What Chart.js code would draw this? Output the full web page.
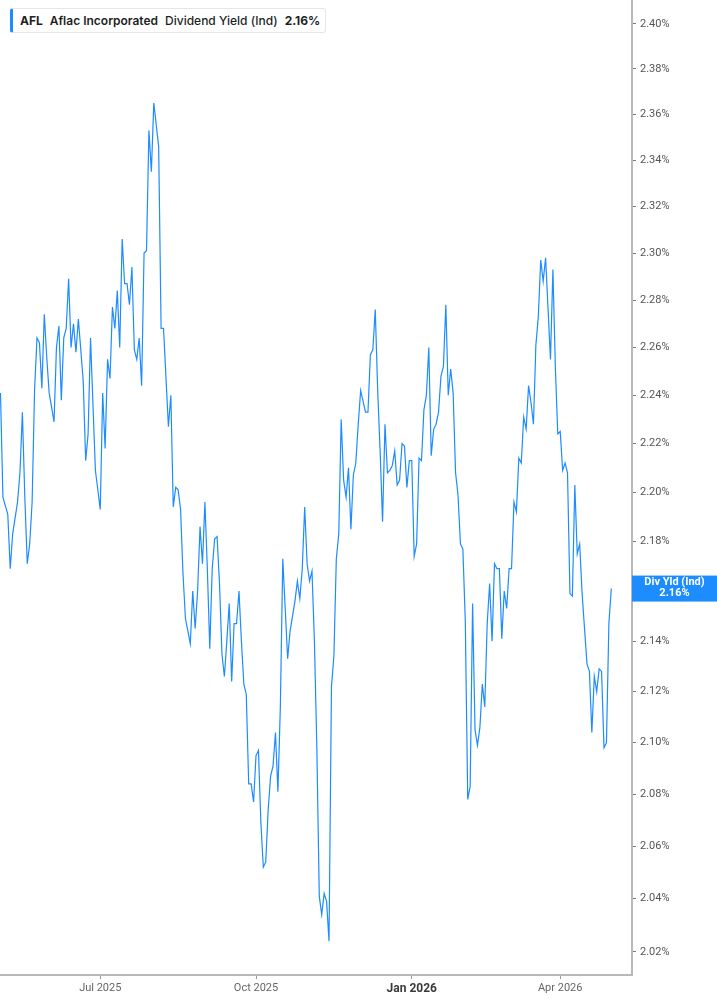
<!DOCTYPE html>
<html>
<head>
<meta charset="utf-8">
<title>AFL Dividend Yield</title>
<script src="https://cdn.jsdelivr.net/npm/chart.js@4.4.1/dist/chart.umd.min.js"></script>
<style>
  html, body { margin: 0; padding: 0; background: #fff; }
  #wrap { position: relative; width: 717px; height: 1005px; }
  #legend {
    position: absolute; left: 10px; top: 8px; height: 23px;
    padding: 0 5px 0 7px;
    border: 1px solid #e6e6e6; border-left: 3px solid #1c8cff; border-radius: 3px;
    background: #fff; white-space: nowrap;
    font-family: Inter, "Noto Sans", sans-serif; font-size: 12px; line-height: 23px; color: #1f1f1f;
  }
  #legend span { margin-right: 7px; }
  #legend span:last-child { margin-right: 0; }
</style>
</head>
<body>
<div id="wrap">
  <canvas id="chart" width="717" height="1005"></canvas>
  <div id="legend">
    <span style="font-weight:700">AFL</span><span style="font-weight:600">Aflac Incorporated</span><span style="font-weight:500">Dividend Yield (Ind)</span><span id="lastVal" style="font-weight:700"></span>
  </div>
</div>
<script>
// trading days counted from 1 May 2025, yield in %
const tradingDay = [0,1,3,4,5,7,8,9,10,11,
  12,13,14,15,16,17,18,19,20,22,
  23,24,25,26,27,28,29,30,31,32,
  34,35,36,37,39,41,42,43,44,45,
  46,47,48,49,50,51,52,53,54,55,
  56,57,58,59,60,61,62,63,65,66,
  67,69,70,71,72,73,74,75,76,78,
  79,80,81,82,83,84,85,86,87,88,
  89,90,91,92,93,94,95,96,97,98,
  99,100,101,102,103,104,105,106,107,108,
  109,110,111,112,113,114,115,116,118,119,
  121,122,123,124,125,126,127,128,129,130,
  131,132,133,134,135,136,137,138,139,140,
  141,142,143,144,145,146,147,148,150,151,
  152,153,154,155,156,157,158,159,160,161,
  162,163,164,165,166,167,168,169,170,171,
  172,173,174,175,176,177,178,179,180,181,
  182,183,184,185,186,187,188,189,190,191,
  192,193,194,195,196,197,198,199,200,201,
  202,203,204,205,206,207,208,209,210,211,
  212,213,214,215,216,217,218,219,220,221,
  222,223,224,226,227,228,229,230,231,232,
  233,234,235,236,237,238,239,241,242,243,
  244,245,246,247,248,249,250,251];

const divYield = [2.241,2.198,2.191,2.169,2.183,2.196,2.208,2.233,2.198,2.171,
  2.179,2.196,2.242,2.264,2.262,2.243,2.274,2.256,2.241,2.229,
  2.260,2.269,2.238,2.264,2.268,2.289,2.260,2.270,2.258,2.272,
  2.246,2.213,2.224,2.264,2.209,2.193,2.241,2.218,2.255,2.247,
  2.277,2.268,2.284,2.260,2.306,2.287,2.287,2.278,2.294,2.259,
  2.255,2.264,2.244,2.300,2.301,2.353,2.335,2.365,2.346,2.268,
  2.268,2.227,2.240,2.194,2.202,2.201,2.193,2.167,2.149,2.139,
  2.160,2.145,2.160,2.186,2.171,2.196,2.169,2.137,2.169,2.181,
  2.182,2.163,2.135,2.126,2.140,2.155,2.124,2.147,2.147,2.160,
  2.140,2.123,2.119,2.084,2.084,2.077,2.095,2.097,2.069,2.052,
  2.054,2.074,2.087,2.091,2.104,2.081,2.114,2.173,2.133,2.144,
  2.156,2.164,2.157,2.169,2.194,2.171,2.164,2.168,2.140,2.098,
  2.041,2.034,2.042,2.039,2.024,2.122,2.134,2.173,2.183,2.230,
  2.205,2.198,2.210,2.185,2.207,2.212,2.228,2.242,2.233,2.233,
  2.257,2.259,2.276,2.242,2.217,2.188,2.228,2.208,2.209,2.211,
  2.217,2.203,2.205,2.220,2.219,2.202,2.213,2.213,2.174,2.179,
  2.214,2.213,2.234,2.240,2.260,2.215,2.226,2.228,2.233,2.248,
  2.252,2.278,2.240,2.251,2.241,2.208,2.199,2.179,2.177,2.148,
  2.078,2.083,2.155,2.105,2.099,2.106,2.123,2.114,2.147,2.163,
  2.140,2.171,2.169,2.169,2.141,2.160,2.153,2.169,2.169,2.196,
  2.192,2.214,2.212,2.231,2.226,2.244,2.237,2.228,2.261,2.273,
  2.297,2.288,2.298,2.255,2.293,2.252,2.224,2.225,2.209,2.212,
  2.208,2.159,2.158,2.203,2.175,2.179,2.159,2.131,2.128,2.104,
  2.126,2.120,2.129,2.128,2.098,2.100,2.147,2.161];

// x axis labels (trading day where each month starts)
const tickDays = [41, 105, 169, 230];
const tickLabels = ['Jul 2025', 'Oct 2025', 'Jan 2026', 'Apr 2026'];

const yTicks = [2.02,2.04,2.06,2.08,2.10,2.12,2.14,2.16,2.18,2.20,
  2.22,2.24,2.26,2.28,2.30,2.32,2.34,2.36,2.38,2.40];

const lineBlue = '#1c8cff';
const lastYield = divYield[divYield.length - 1];
document.getElementById('lastVal').textContent = lastYield.toFixed(2) + '%';

// blue tag on the right axis with the latest value
const lastValueTag = {
  id: 'lastValueTag',
  afterDraw(chart) {
    const c = chart.ctx;
    const area = chart.chartArea;
    const y = chart.scales.y.getPixelForValue(lastYield);
    const cx = (area.right + chart.width) / 2;
    c.save();
    c.fillStyle = lineBlue;
    c.fillRect(area.right, y - 13, chart.width - area.right, 26);
    c.fillStyle = '#fff';
    c.font = 'bold 11px Roboto';
    c.textAlign = 'center';
    c.textBaseline = 'middle';
    c.fillText('Div Yld (Ind)', cx, y - 6);
    c.fillText(lastYield.toFixed(2) + '%', cx, y + 5);
    c.restore();
  }
};

new Chart(document.getElementById('chart'), {
  type: 'line',
  data: {
    datasets: [{
      data: tradingDay.map((d, i) => ({ x: d, y: divYield[i] })),
      borderColor: lineBlue,
      borderWidth: 1.2,
      pointRadius: 0,
      tension: 0,
      fill: false
    }]
  },
  options: {
    responsive: false,
    animation: false,
    layout: { padding: 0 },
    plugins: { legend: { display: false }, tooltip: { enabled: false } },
    scales: {
      x: {
        type: 'linear',
        min: -0.2,
        max: 259.5,
        afterBuildTicks: s => { s.ticks = tickDays.map(v => ({ value: v })); },
        afterFit: s => { s.height = 30; s.paddingLeft = 0; s.paddingRight = 0; },
        border: { color: '#b8b8b8', width: 2 },
        grid: { drawOnChartArea: false, tickLength: 4, tickColor: '#999' },
        ticks: {
          autoSkip: false,
          maxRotation: 0,
          padding: 3,
          callback: v => tickLabels[tickDays.indexOf(v)],
          color: c => c.tick && c.tick.value === 169 ? '#3a3a3a' : '#666',
          font: c => c.tick && c.tick.value === 169
            ? { family: 'Roboto', size: 12, weight: 'bold' }
            : { family: 'Roboto', size: 11 }
        }
      },
      y: {
        type: 'logarithmic',
        position: 'right',
        min: 2.0113,
        max: 2.4107,
        afterBuildTicks: s => { s.ticks = yTicks.map(v => ({ value: v })); },
        // no extra room above/below for the label halves: plot fills the height
        afterFit: s => { s.width = 85; s.paddingTop = 0; s.paddingBottom = 0; },
        border: { color: '#b8b8b8', width: 2 },
        grid: { drawOnChartArea: false, tickLength: 4, tickColor: '#777' },
        ticks: {
          padding: 4,
          color: '#555',
          font: { family: 'Roboto', size: 11 },
          callback: v => v.toFixed(2) + '%'
        }
      }
    }
  },
  plugins: [lastValueTag]
});
</script>
</body>
</html>
